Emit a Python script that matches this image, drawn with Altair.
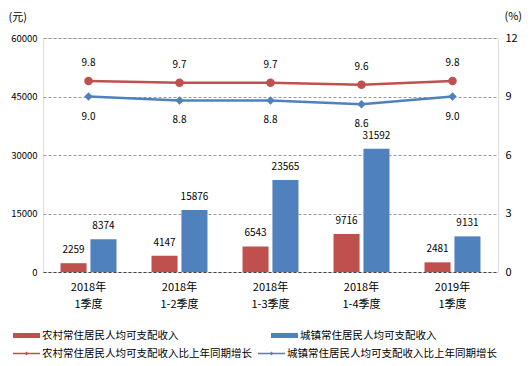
import altair as alt
import pandas as pd

cats = ["2018年 1季度", "2018年 1-2季度", "2018年 1-3季度", "2018年 1-4季度", "2019年 1季度"]
rural_income = [2259, 4147, 6543, 9716, 2481]
urban_income = [8374, 15876, 23565, 31592, 9131]
rural_growth = [9.8, 9.7, 9.7, 9.6, 9.8]
urban_growth = [9.0, 8.8, 8.8, 8.6, 9.0]

s_rural = "农村常住居民人均可支配收入"
s_urban = "城镇常住居民人均可支配收入"
g_rural = "农村常住居民人均可支配收入比上年同期增长"
g_urban = "城镇常住居民人均可支配收入比上年同期增长"

RED = "#C0504D"
BLUE = "#4F81BD"
FONT = "Noto Sans CJK SC"

bars_df = pd.DataFrame(
    [{"cat": c, "series": s_rural, "v": v} for c, v in zip(cats, rural_income)]
    + [{"cat": c, "series": s_urban, "v": v} for c, v in zip(cats, urban_income)]
)
lines_df = pd.DataFrame(
    [{"cat": c, "series": g_rural, "v": v, "side": "top", "shp": "circle"} for c, v in zip(cats, rural_growth)]
    + [{"cat": c, "series": g_urban, "v": v, "side": "bottom", "shp": "diamond"} for c, v in zip(cats, urban_growth)]
)

x_enc = alt.X(
    "cat:N", sort=cats, title=None,
    scale=alt.Scale(paddingInner=0.385, paddingOuter=0.1925),
    axis=alt.Axis(labelExpr="split(datum.label, ' ')", labelAngle=0, domain=False, ticks=False,
                  labelPadding=9, labelFontSize=11, labelLineHeight=17, labelFont=FONT,
                  labelColor="#000"),
)
xoff = alt.XOffset("series:N", sort=[s_rural, s_urban],
                   scale=alt.Scale(paddingInner=0.13, paddingOuter=0))

y_left = alt.Y(
    "v:Q", title="(元)",
    scale=alt.Scale(domain=[0, 60000], nice=False),
    axis=alt.Axis(values=[0, 15000, 30000, 45000, 60000], format="d", domain=False, ticks=False,
                  labelPadding=6, labelFontSize=9.5, labelFont=FONT, labelColor="#000",
                  gridDash=[3, 2],
                  gridColor={"condition": {"test": "datum.value === 0", "value": "#444"}, "value": "#999"},
                  titleAngle=0, titleAlign="left", titleBaseline="middle", titleX=-35, titleY=-21,
                  titleFont=FONT, titleFontSize=11, titleFontWeight="normal", titleColor="#000"),
)

bars = alt.Chart(bars_df).mark_bar().encode(
    x=x_enc, xOffset=xoff, y=y_left,
    color=alt.Color("series:N", sort=[s_rural, s_urban],
                    scale=alt.Scale(domain=[s_rural, s_urban], range=[RED, BLUE]),
                    legend=alt.Legend(title=None, orient="none", legendX=-30, legendY=284,
                                      direction="horizontal", columns=2, columnPadding=92,
                                      symbolType="M-1,-0.185H1V0.185H-1Z", symbolSize=729,
                                      symbolStrokeWidth=0, labelFont=FONT, labelFontSize=10.5,
                                      labelColor="#000", labelOffset=2, labelLimit=400)),
)
bar_text = alt.Chart(bars_df).mark_text(baseline="middle", dy=-13, font=FONT, fontSize=10, color="#000").encode(
    x=alt.X("cat:N", sort=cats), xOffset=xoff, y=alt.Y("v:Q"), text=alt.Text("v:Q", format="d")
)
bar_layer = alt.layer(bars, bar_text)

y_right = alt.Y(
    "v:Q", title="(%)",
    scale=alt.Scale(domain=[0, 12], nice=False),
    axis=alt.Axis(orient="right", values=[0, 3, 6, 9, 12], grid=False, domain=False, ticks=False,
                  labelPadding=7, labelFontSize=11, labelFont=FONT, labelColor="#000",
                  titleAngle=0, titleAlign="left", titleBaseline="middle", titleX=6, titleY=-22,
                  titleFont=FONT, titleFontSize=11, titleFontWeight="normal", titleColor="#000"),
)
gcolor_scale = alt.Scale(domain=[g_rural, g_urban], range=[RED, BLUE])

line_rural = alt.Chart(lines_df).transform_filter(alt.datum.side == "top").mark_line(
    strokeWidth=2.5, color=RED).encode(x=alt.X("cat:N", sort=cats), y=y_right)
line_urban = alt.Chart(lines_df).transform_filter(alt.datum.side == "bottom").mark_line(
    strokeWidth=2.5, color=BLUE).encode(x=alt.X("cat:N", sort=cats), y=alt.Y("v:Q"))
pts = alt.Chart(lines_df).mark_point(filled=True, opacity=1, size=72).encode(
    x=alt.X("cat:N", sort=cats), y=alt.Y("v:Q"),
    shape=alt.Shape("shp:N", scale=None),
    color=alt.Color("series:N", sort=[g_rural, g_urban], scale=gcolor_scale,
                    legend=alt.Legend(title=None, orient="none", legendX=-30, legendY=302,
                                      direction="horizontal", columns=2, columnPadding=6,
                                      symbolType="M-1,-0.05H1V0.05H-1Z M0,-0.14L0.14,0L0,0.14L-0.14,0Z",
                                      symbolSize=729, symbolStrokeWidth=0, symbolOpacity=1,
                                      labelFont=FONT, labelFontSize=10.5,
                                      labelColor="#000", labelOffset=2, labelLimit=400)),
)
text_top = alt.Chart(lines_df).transform_filter(alt.datum.side == "top").mark_text(
    dy=-18, font=FONT, fontSize=10, color="#000").encode(
    x=alt.X("cat:N", sort=cats), y=alt.Y("v:Q"), text=alt.Text("v:Q", format=".1f"))
text_bot = alt.Chart(lines_df).transform_filter(alt.datum.side == "bottom").mark_text(
    dy=20, font=FONT, fontSize=10, color="#000").encode(
    x=alt.X("cat:N", sort=cats), y=alt.Y("v:Q"), text=alt.Text("v:Q", format=".1f"))
line_layer = alt.layer(line_rural, line_urban, pts, text_top, text_bot)

chart = alt.layer(bar_layer, line_layer).resolve_scale(
    y="independent", color="independent"
).properties(
    width=455, height=234,
    autosize=alt.AutoSizeParams(type="none"),
    padding={"left": 35, "top": 30, "right": 26, "bottom": 86},
).configure_view(stroke=None).configure(background="white")

chart.save("out.html", embed_options={"renderer": "svg", "actions": False})
